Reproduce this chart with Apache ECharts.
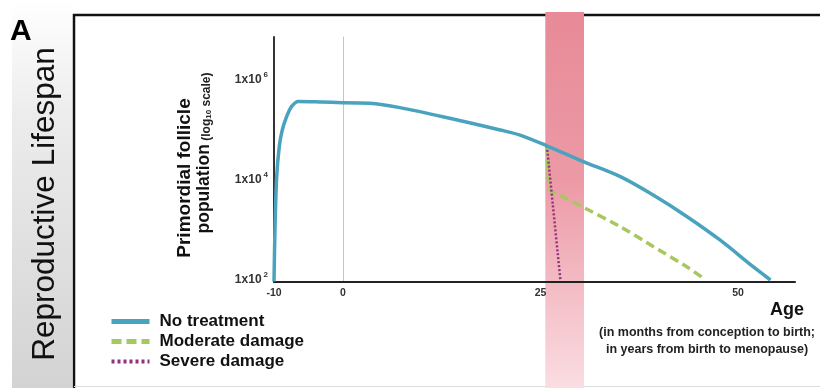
<!DOCTYPE html>
<html><head><meta charset="utf-8">
<script src="https://cdn.jsdelivr.net/npm/echarts@6/dist/echarts.min.js"></script>
<style>html,body{margin:0;padding:0;background:#fff}#c{width:820px;height:388px}</style>
</head><body><div id="c"></div>
<script>
// ---- data ----
const fetalMonths = [-10, -9.86, -9.62, -9.23, -8.8, -8.16, -7.44, -6.48, -3, 0];
const fetalFollicles = [85, 910, 10000, 43000, 91000, 170000, 270000, 340000, 330000, 320000];
const ageYears = [0, 3.4, 7.2, 13.5, 19.9, 22.4, 25.8, 30.5, 35.1, 39.2, 43.5, 47.7, 51.9, 54.1];
const noTreatment = [320000, 312000, 255000, 156000, 91000, 72000, 44000, 21000, 10600, 4600, 1700, 575, 168, 91];
const moderateAge = [25.8, 26.2, 27.9, 30.2, 35.1, 39.3, 43.5, 45.8];
const moderateDamage = [44000, 5800, 4200, 2700, 1060, 423, 168, 94];
const severeAge = [25.8, 27.5];
const severeDamage = [44000, 95];
const seriesNames = ['No treatment', 'Moderate damage', 'Severe damage'];
const xTickMonths = [-10];
const xTickYears = [0, 25, 50];
const yTickValues = [100, 10000, 1000000];
const yTickExponents = ['2', '4', '6'];
const treatmentWindow = [25.6, 30.5];
const yRange = [83, 6.6e6];
const yearRange = [0, 57.2];
const monthRange = [-10, 0];

const FONT = '"Liberation Sans", Arial, Helvetica, sans-serif';
const C = { blue: '#4aa3be', green: '#a6c85c', purple: '#94317f' };

function pair(xs, ys) { return xs.map((x, i) => [x, ys[i]]); }

const chart = echarts.init(document.getElementById('c'), null, { renderer: 'canvas' });

const xLabel = { fontFamily: FONT, fontSize: 10.5, fontWeight: 'bold', color: '#333', margin: 6 };
const axisLineDark = { onZero: false, lineStyle: { color: '#222', width: 2 } };

const option = {
  backgroundColor: '#fff',
  animation: false,
  grid: [
    { left: 274, width: 69, top: 37, bottom: 106 },
    { left: 343, right: 25, top: 37, bottom: 106 }
  ],
  xAxis: [
    { gridIndex: 0, type: 'value', min: monthRange[0], max: monthRange[1],
      axisLine: axisLineDark, axisTick: { show: false }, splitLine: { show: false },
      axisLabel: Object.assign({ customValues: xTickMonths }, xLabel) },
    { gridIndex: 1, type: 'value', min: yearRange[0], max: yearRange[1],
      axisLine: axisLineDark, axisTick: { show: false }, splitLine: { show: false },
      axisLabel: Object.assign({ customValues: xTickYears }, xLabel) }
  ],
  yAxis: [
    { gridIndex: 0, type: 'log', logBase: 10, min: yRange[0], max: yRange[1],
      axisLine: { show: true, onZero: false, lineStyle: { color: '#333', width: 2 } },
      axisTick: { show: false }, splitLine: { show: false },
      axisLabel: {
        customValues: yTickValues, margin: 6,
        formatter: function (v) {
          const e = Math.round(Math.log10(v));
          const idx = yTickValues.findIndex(t => Math.round(Math.log10(t)) === e);
          return '{b|1x10}{s|' + yTickExponents[idx] + '}';
        },
        rich: {
          b: { fontFamily: FONT, fontSize: 12, fontWeight: 'bold', color: '#333', lineHeight: 15, verticalAlign: 'bottom' },
          s: { fontFamily: FONT, fontSize: 8, fontWeight: 'bold', color: '#333', lineHeight: 8, verticalAlign: 'top', padding: [0, 0, 0, 2] }
        }
      } },
    { gridIndex: 1, type: 'log', logBase: 10, min: yRange[0], max: yRange[1],
      axisLine: { show: true, onZero: false, lineStyle: { color: '#c4c4c4', width: 1 } },
      axisTick: { show: false }, splitLine: { show: false }, axisLabel: { show: false } }
  ],
  legend: {
    orient: 'vertical', left: 104, top: 308, itemWidth: 38, itemHeight: 14, itemGap: 3,
    itemStyle: { opacity: 0 },
    textStyle: { fontFamily: FONT, fontSize: 17, fontWeight: 'bold', color: '#111', lineHeight: 17, padding: [0, 0, 0, 5] },
    data: [
      { name: seriesNames[0], itemStyle: { opacity: 0 }, lineStyle: { width: 5 } },
      { name: seriesNames[1], itemStyle: { opacity: 0 }, lineStyle: { width: 5, type: [10, 5] } },
      { name: seriesNames[2], itemStyle: { opacity: 0 }, lineStyle: { width: 4, type: [3, 3] } }
    ]
  },
  series: [
    { name: seriesNames[1], type: 'line', xAxisIndex: 1, yAxisIndex: 1, data: pair(moderateAge, moderateDamage),
      symbol: 'none', smooth: 0.2, z: 3,
      lineStyle: { color: C.green, width: 3.5, type: [9, 5] }, itemStyle: { color: C.green } },
    { name: seriesNames[2], type: 'line', xAxisIndex: 1, yAxisIndex: 1, data: pair(severeAge, severeDamage),
      symbol: 'none', z: 4,
      lineStyle: { color: C.purple, width: 2.5, type: [2, 2] }, itemStyle: { color: C.purple } },
    { name: seriesNames[0], type: 'line', xAxisIndex: 0, yAxisIndex: 0, data: pair(fetalMonths, fetalFollicles),
      symbol: 'none', smooth: 0.3, z: 5,
      lineStyle: { color: C.blue, width: 3.5 }, itemStyle: { color: C.blue } },
    { name: seriesNames[0], type: 'line', xAxisIndex: 1, yAxisIndex: 1, data: pair(ageYears, noTreatment),
      symbol: 'none', smooth: 0.3, z: 5,
      lineStyle: { color: C.blue, width: 3.5 }, itemStyle: { color: C.blue } }
  ]
};
chart.setOption(option);

const bx0 = chart.convertToPixel({ xAxisIndex: 1 }, treatmentWindow[0]);
const bx1 = chart.convertToPixel({ xAxisIndex: 1 }, treatmentWindow[1]);

chart.setOption({
  graphic: [
    { type: 'rect', z: -3, shape: { x: 12, y: 0, width: 60, height: 388 },
      style: { fill: new echarts.graphic.LinearGradient(0, 0, 0, 1, [
        { offset: 0, color: '#ffffff' }, { offset: 0.3, color: '#ececec' }, { offset: 1, color: '#d3d3d3' }]) } },
    { type: 'polyline', z: -2, shape: { points: [[74, 388], [74, 15], [820, 15]] },
      style: { stroke: '#111', lineWidth: 2.5, fill: null } },
    { type: 'line', z: -2, shape: { x1: 74, y1: 386.5, x2: 820, y2: 386.5 }, style: { stroke: '#dcdcdc', lineWidth: 1 } },
    { type: 'rect', z: -1, shape: { x: bx0, y: 12, width: bx1 - bx0, height: 376 },
      style: { fill: new echarts.graphic.LinearGradient(0, 0, 0, 1, [
        { offset: 0, color: '#e88a98' }, { offset: 0.45, color: '#ec9aa6' }, { offset: 1, color: '#fadde2' }]) } },
    { type: 'text', x: 10, y: 17, style: { text: 'A', fontFamily: FONT, fontSize: 30, fontWeight: 'bold', fill: '#000', verticalAlign: 'top' } },
    { type: 'text', x: 45, y: 204, rotation: Math.PI / 2,
      style: { text: 'Reproductive Lifespan', fontFamily: FONT, fontSize: 31.5, fill: '#111', align: 'center', verticalAlign: 'middle' } },
    { type: 'text', x: 185, y: 178, rotation: Math.PI / 2,
      style: { text: 'Primordial follicle', fontFamily: FONT, fontSize: 19, fontWeight: 'bold', fill: '#111', align: 'center', verticalAlign: 'middle' } },
    { type: 'text', x: 203, y: 153, rotation: Math.PI / 2,
      style: { text: '{a|population} {b|(log}{c|10}{b| scale)}', align: 'center', verticalAlign: 'middle',
        rich: {
          a: { fontFamily: FONT, fontSize: 17.5, fontWeight: 'bold', fill: '#111', lineHeight: 20, verticalAlign: 'bottom' },
          b: { fontFamily: FONT, fontSize: 12, fontWeight: 'bold', fill: '#222', lineHeight: 14, verticalAlign: 'bottom' },
          c: { fontFamily: FONT, fontSize: 8, fontWeight: 'bold', fill: '#222', lineHeight: 8, verticalAlign: 'bottom' }
        } } },
    { type: 'text', x: 787, y: 310, style: { text: 'Age', fontFamily: FONT, fontSize: 18, fontWeight: 'bold', fill: '#111', align: 'center', verticalAlign: 'middle' } },
    { type: 'text', x: 707, y: 333, style: { text: '(in months from conception to birth;', fontFamily: FONT, fontSize: 12.5, fontWeight: 'bold', fill: '#222', align: 'center', verticalAlign: 'middle' } },
    { type: 'text', x: 707, y: 350, style: { text: 'in years from birth to menopause)', fontFamily: FONT, fontSize: 12.5, fontWeight: 'bold', fill: '#222', align: 'center', verticalAlign: 'middle' } }
  ]
});
</script></body></html>
